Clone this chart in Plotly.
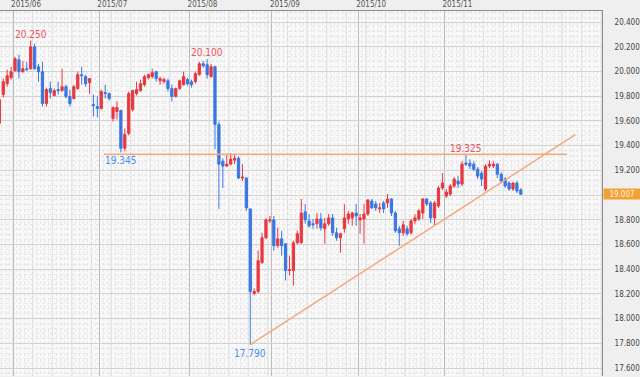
import numpy as np
import pandas as pd
import plotly.graph_objects as go

# ---------------- data (daily candles, weekdays) ----------------
dates = pd.bdate_range("2015-05-26", "2015-11-27")

opens = [19.580, 19.813, 19.901, 19.950, 20.006, 20.094, 19.998, 20.022, 20.022, 20.199,
         20.038, 19.998, 19.740, 19.861, 19.805, 19.853, 19.845, 19.877, 19.797, 19.781,
         19.861, 19.974, 19.958, 19.909, 19.732, 19.716, 19.700, 19.829, 19.821, 19.620,
         19.676, 19.684, 19.378, 19.499, 19.692, 19.821, 19.845, 19.893, 19.950, 19.958,
         19.998, 19.925, 19.917, 19.925, 19.861, 19.797, 19.861, 19.893, 19.934, 19.917,
         19.917, 19.974, 20.062, 20.054, 19.958, 20.038, 19.571, 19.274, 19.234, 19.250,
         19.282, 19.298, 19.137, 19.137, 18.888, 18.204, 18.220, 18.453, 18.654, 18.791,
         18.799, 18.590, 18.646, 18.606, 18.389, 18.389, 18.614, 18.614, 18.864, 18.791,
         18.767, 18.767, 18.807, 18.727, 18.767, 18.815, 18.695, 18.654, 18.727, 18.807,
         18.815, 18.855, 18.799, 18.807, 18.847, 18.952, 18.928, 18.888, 18.936, 18.936,
         18.968, 18.855, 18.727, 18.695, 18.727, 18.695, 18.791, 18.807, 18.855, 18.968,
         18.936, 18.815, 18.912, 19.057, 18.992, 19.008, 19.073, 19.113, 19.089, 19.258,
         19.258, 19.250, 19.209, 19.177, 19.049, 19.234, 19.234, 19.250, 19.169, 19.129,
         19.097, 19.049, 19.097, 19.041]
highs = [19.797, 19.942, 20.014, 20.038, 20.119, 20.135, 20.086, 20.078, 20.250, 20.223,
         20.062, 20.078, 19.869, 19.917, 19.861, 19.917, 20.022, 19.893, 19.853, 19.893,
         19.998, 20.038, 19.974, 19.945, 19.813, 19.797, 19.853, 19.893, 19.829, 19.716,
         19.757, 19.692, 19.539, 19.837, 19.853, 19.917, 19.934, 19.974, 19.982, 20.022,
         20.006, 19.958, 19.950, 19.942, 19.893, 19.869, 19.934, 19.998, 19.950, 19.934,
         19.998, 20.078, 20.086, 20.100, 20.062, 20.046, 19.596, 19.298, 19.330, 19.338,
         19.330, 19.314, 19.250, 19.145, 18.890, 18.244, 18.550, 18.695, 18.815, 18.831,
         18.831, 18.735, 18.711, 18.610, 18.510, 18.630, 18.711, 18.968, 18.928, 18.847,
         18.807, 18.855, 18.855, 18.815, 18.847, 18.847, 18.735, 18.695, 18.928, 18.872,
         18.864, 18.928, 18.847, 18.928, 18.968, 18.968, 18.952, 18.936, 18.952, 19.008,
         18.976, 18.872, 18.751, 18.791, 18.751, 18.807, 18.847, 18.888, 18.976, 18.976,
         18.952, 18.952, 19.073, 19.177, 19.049, 19.089, 19.145, 19.153, 19.274, 19.325,
         19.290, 19.274, 19.226, 19.193, 19.250, 19.282, 19.274, 19.258, 19.185, 19.145,
         19.113, 19.105, 19.113, 19.057]
lows = [19.555, 19.789, 19.877, 19.934, 19.998, 19.942, 19.990, 20.006, 20.014, 20.014,
        19.917, 19.716, 19.716, 19.781, 19.797, 19.813, 19.837, 19.781, 19.716, 19.773,
        19.853, 19.893, 19.877, 19.821, 19.636, 19.628, 19.692, 19.781, 19.765, 19.596,
        19.612, 19.345, 19.354, 19.483, 19.676, 19.805, 19.837, 19.877, 19.934, 19.942,
        19.917, 19.893, 19.901, 19.837, 19.757, 19.789, 19.853, 19.885, 19.885, 19.869,
        19.901, 19.966, 20.030, 19.942, 19.950, 19.370, 18.888, 19.057, 19.226, 19.242,
        19.250, 19.129, 19.113, 18.872, 17.790, 18.188, 18.204, 18.445, 18.646, 18.775,
        18.550, 18.574, 18.510, 18.309, 18.349, 18.268, 18.598, 18.606, 18.767, 18.735,
        18.727, 18.727, 18.711, 18.606, 18.751, 18.670, 18.630, 18.534, 18.695, 18.767,
        18.751, 18.751, 18.687, 18.606, 18.831, 18.888, 18.872, 18.855, 18.855, 18.896,
        18.831, 18.695, 18.590, 18.670, 18.670, 18.679, 18.767, 18.791, 18.807, 18.912,
        18.775, 18.751, 18.896, 19.041, 18.976, 18.992, 19.057, 19.057, 19.073, 19.234,
        19.209, 19.193, 19.129, 19.073, 19.033, 19.218, 19.218, 19.137, 19.097, 19.057,
        19.033, 19.033, 19.016, 19.000]
closes = [19.773, 19.917, 19.966, 19.998, 20.102, 19.998, 20.022, 20.014, 20.199, 20.022,
          19.998, 19.740, 19.853, 19.829, 19.845, 19.845, 19.877, 19.797, 19.740, 19.877,
          19.974, 19.966, 19.901, 19.942, 19.724, 19.700, 19.837, 19.821, 19.781, 19.708,
          19.708, 19.378, 19.491, 19.821, 19.845, 19.853, 19.901, 19.958, 19.974, 19.990,
          19.942, 19.942, 19.934, 19.861, 19.797, 19.861, 19.925, 19.958, 19.901, 19.893,
          19.982, 20.062, 20.046, 19.974, 20.038, 19.571, 19.250, 19.234, 19.250, 19.290,
          19.298, 19.137, 19.145, 18.896, 18.220, 18.220, 18.469, 18.654, 18.799, 18.799,
          18.590, 18.646, 18.590, 18.389, 18.397, 18.614, 18.687, 18.855, 18.799, 18.751,
          18.759, 18.807, 18.735, 18.767, 18.815, 18.695, 18.654, 18.687, 18.815, 18.847,
          18.855, 18.831, 18.815, 18.847, 18.960, 18.896, 18.896, 18.896, 18.888, 18.968,
          18.855, 18.711, 18.695, 18.759, 18.687, 18.791, 18.815, 18.872, 18.968, 18.928,
          18.815, 18.936, 19.057, 19.097, 19.024, 19.073, 19.129, 19.089, 19.250, 19.250,
          19.234, 19.209, 19.153, 19.129, 19.234, 19.250, 19.250, 19.169, 19.113, 19.073,
          19.049, 19.097, 19.033, 19.007]

y_ticks = [17.6, 17.8, 18.0, 18.2, 18.4, 18.6, 18.8, 19.0, 19.2, 19.4, 19.6, 19.8, 20.0, 20.2, 20.4]

# drawn lines (in trading-day index units)
resistance_level = 19.330
resistance_x = [26.7, 144.8]
trend_x = [64, 146.9]
trend_y = [17.790, 19.489]

RED = "#e8383f"
BLUE = "#3a76e2"
ORANGE_LINE = "#f6a878"
LBL_RED = "#f0505e"
LBL_BLUE = "#4a8ff0"

x = np.arange(len(dates))
o, h, l, c = map(np.array, (opens, highs, lows, closes))

# month ticks / weekly lines
month_pos, month_lbl = [], []
for i in range(1, len(dates)):
    if dates[i].month != dates[i - 1].month:
        month_pos.append(i - 0.5)
        month_lbl.append(f"{dates[i].year}/{dates[i].month:02d}")
first_monday = next(i for i in range(len(dates)) if dates[i].weekday() == 0)
week_pos = np.arange(first_monday - 0.5, 154, 5)

fig = go.Figure()
fig.add_trace(go.Candlestick(
    x=x, open=o, high=h, low=l, close=c,
    increasing=dict(line=dict(color=RED, width=1), fillcolor=RED),
    decreasing=dict(line=dict(color=BLUE, width=1), fillcolor=BLUE),
    whiskerwidth=0, showlegend=False, hoverinfo="skip"))

shapes = []
for wp in week_pos:
    shapes.append(dict(type="line", xref="x", yref="paper", x0=wp, x1=wp, y0=0, y1=1,
                       line=dict(color="#dadada", width=1), layer="below"))
shapes.append(dict(type="line", xref="x", yref="y", x0=resistance_x[0], x1=resistance_x[1],
                   y0=resistance_level, y1=resistance_level,
                   line=dict(color=ORANGE_LINE, width=1.5)))
shapes.append(dict(type="line", xref="x", yref="y", x0=trend_x[0], x1=trend_x[1],
                   y0=trend_y[0], y1=trend_y[1], line=dict(color=ORANGE_LINE, width=1.5)))

lab_font = "Liberation Sans Narrow, Arial Narrow, DejaVu Sans Condensed, Liberation Sans, Arial"
ann = []
def hi_label(i):
    ann.append(dict(x=i, y=h[i], text=f"{h[i]:.3f}", showarrow=False, yanchor="bottom",
                    font=dict(size=10, color=LBL_RED, family=lab_font), yshift=-1))
def lo_label(i):
    ann.append(dict(x=i, y=l[i], text=f"{l[i]:.3f}", showarrow=False, yanchor="top",
                    font=dict(size=10, color=LBL_BLUE, family=lab_font), yshift=-1))

hi_label(int(np.argmax(h[:30])))
hi_label(int(np.argmax(h[30:60])) + 30)
hi_label(int(np.argmax(h[100:])) + 100)
lo_label(int(np.argmin(l[10:40])) + 10)
lo_label(int(np.argmin(l)))

ann.append(dict(xref="paper", x=1, xanchor="left", y=c[-1], yref="y", text=f"{c[-1]:.3f}",
                showarrow=False, bgcolor="#f5a033", width=36, height=10, borderpad=0,
                font=dict(size=8, color="#fff3e0", family=lab_font), xshift=1))

fig.update_layout(
    width=640, height=377,
    margin=dict(l=0, r=38, t=9, b=1, pad=0),
    paper_bgcolor="#efefef", plot_bgcolor="#f8f8f8",
    boxgap=0.2,
    shapes=shapes, annotations=ann,
    xaxis=dict(type="linear", side="top", range=[0.17, 153.7], rangeslider=dict(visible=False),
               tickmode="array", tickvals=month_pos, ticktext=month_lbl, ticks="",
               tickfont=dict(size=8, color="#555555", family=lab_font), ticklabelshift=13,
               showgrid=True, gridcolor="#bcbcbc", gridwidth=1, zeroline=False,
               showline=True, linecolor="#8a8a8a", linewidth=1,
               minor=dict(tick0=-0.5, dtick=1, showgrid=True, gridcolor="#e6e6e6", griddash="dot")),
    yaxis=dict(side="right", range=[17.536, 20.489], tickmode="array", tickvals=y_ticks,
               ticktext=["" if abs(v - 19.0) < 1e-9 else f"{v:.3f}" for v in y_ticks],
               ticks="", ticklabelstandoff=10,
               tickfont=dict(size=8, color="#444444", family=lab_font),
               showgrid=True, gridcolor="#d2d2d2", gridwidth=1, zeroline=False,
               showline=True, linecolor="#8a8a8a", linewidth=1,
               minor=dict(tick0=17.6, dtick=0.04, showgrid=True, gridcolor="#e6e6e6", griddash="dot")),
    hovermode=False,
)

fig.write_html("out.html", config={"displayModeBar": False, "staticPlot": True},
               post_script="document.body.style.margin='0px';document.body.style.overflow='hidden';")
